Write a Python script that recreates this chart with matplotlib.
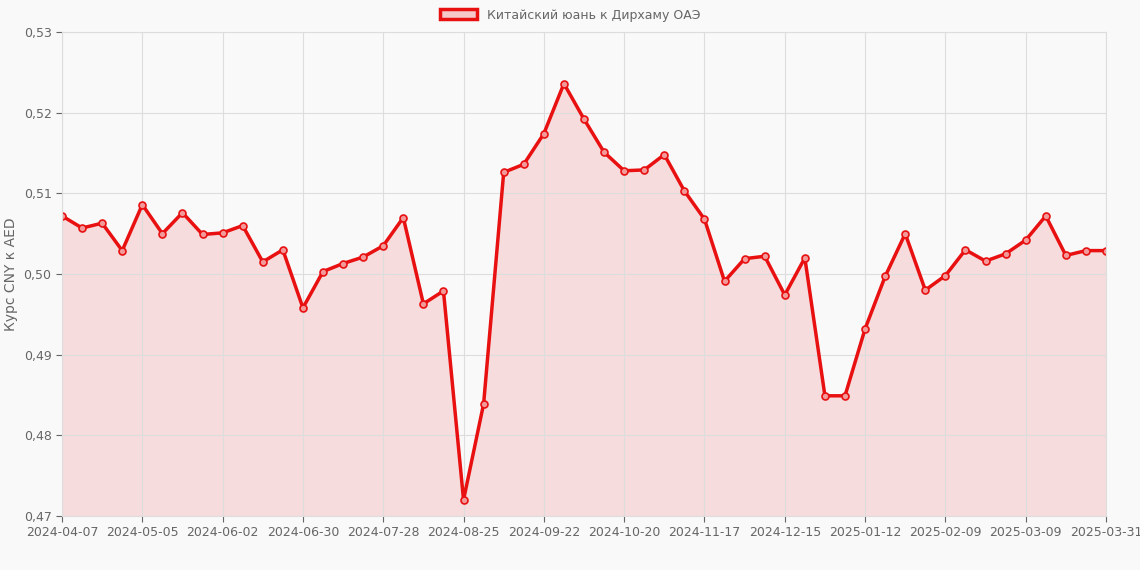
import matplotlib
matplotlib.use("Agg")
import matplotlib.pyplot as plt
import datetime as dt

start = dt.date(2024, 4, 7)
dates = [(start + dt.timedelta(weeks=i)).isoformat() for i in range(52)] + ["2025-03-31"]
values = [0.5072, 0.5057, 0.5063, 0.5029, 0.5086, 0.5050, 0.5076, 0.5049, 0.5051, 0.5060,
          0.5015, 0.5030, 0.4958, 0.5003, 0.5013, 0.5021, 0.5035, 0.5070, 0.4963, 0.4979,
          0.4720, 0.4839, 0.5126, 0.5136, 0.5174, 0.5236, 0.5192, 0.5151, 0.5128, 0.5129,
          0.5148, 0.5103, 0.5068, 0.4991, 0.5019, 0.5022, 0.4974, 0.5020, 0.4849, 0.4849,
          0.4932, 0.4997, 0.5050, 0.4980, 0.4998, 0.5030, 0.5016, 0.5025, 0.5042, 0.5072,
          0.5023, 0.5029, 0.5029]
label = "Китайский юань к Дирхаму ОАЭ"
ylabel = "Курс CNY к AED"
yticks = [0.47, 0.48, 0.49, 0.50, 0.51, 0.52, 0.53]

bg = "#f9f9f9"
fig = plt.figure(figsize=(11.4, 5.7), dpi=100, facecolor=bg)
ax = fig.add_axes([62/1140, 1-516/570, (1106-62)/1140, (516-32)/570], facecolor=bg)
x = list(range(len(values)))
ax.fill_between(x, values, 0.47, color="#f5c9c9", alpha=0.6, lw=0)
ax.plot(x, values, color="#e81010", lw=2.5, marker="o", ms=5, mfc="#f29a9a", mec="#e81010", mew=1.2,
        label=label)
ax.set_xlim(0, len(values)-1)
ax.set_ylim(0.47, 0.53)
ax.set_yticks(yticks)
ax.set_yticklabels([f"{v:.2f}".replace(".", ",") for v in yticks])
tick_idx = list(range(0, len(values), 4))
ax.set_xticks(tick_idx)
ax.set_xticklabels([dates[i] for i in tick_idx])
ax.grid(True, color="#dddddd", lw=0.8)
for s in ax.spines.values():
    s.set_color("#dddddd")
ax.tick_params(colors="#666666", labelsize=9, length=4)
ax.set_ylabel(ylabel, color="#666666", fontsize=10)
leg = fig.legend([plt.Rectangle((0, 0), 1, 1, fc="#f5c9c9", ec="#e81010", lw=2.5)], [label],
                 loc="center", bbox_to_anchor=(0.5, 1-15/570), frameon=False, fontsize=9,
                 handlelength=3, handleheight=0.9)
for t in leg.get_texts():
    t.set_color("#666666")
fig.savefig("out.png", dpi=100, facecolor=bg)
